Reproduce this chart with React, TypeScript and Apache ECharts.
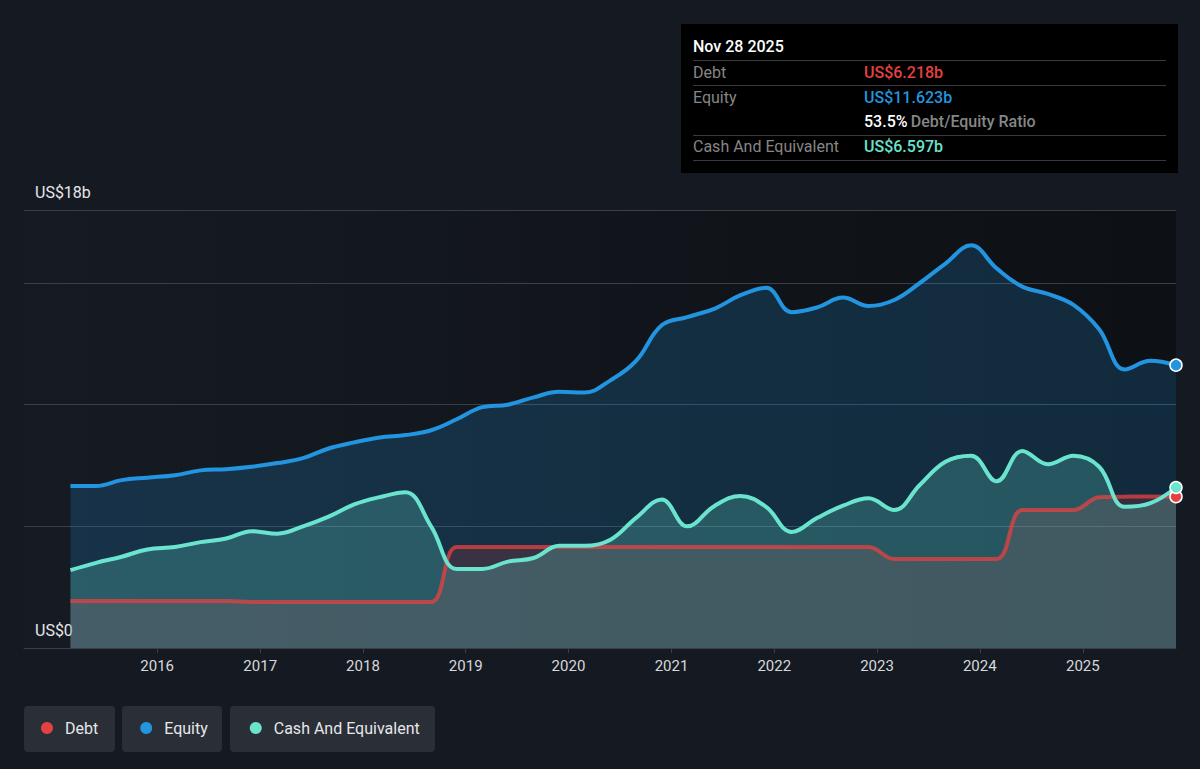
import React, { useEffect, useRef } from "react";
import * as echarts from "echarts";

const dates = [
  "2015-02-27", "2015-05-29", "2015-08-28", "2015-11-27",
  "2016-03-04", "2016-06-03", "2016-09-02", "2016-12-02",
  "2017-03-03", "2017-06-02", "2017-09-01", "2017-12-01",
  "2018-03-02", "2018-06-01", "2018-08-31", "2018-11-30",
  "2019-03-01", "2019-05-31", "2019-08-30", "2019-11-29",
  "2020-02-28", "2020-05-29", "2020-08-28", "2020-11-27",
  "2021-02-26", "2021-06-04", "2021-09-03", "2021-12-03",
  "2022-03-04", "2022-06-03", "2022-09-02", "2022-12-02",
  "2023-03-03", "2023-06-02", "2023-09-01", "2023-12-01",
  "2024-03-01", "2024-05-31", "2024-08-30", "2024-11-29",
  "2025-02-28", "2025-05-30", "2025-08-29", "2025-11-28",
];

const equity = [
  6.66, 6.66, 6.9, 7.0,
  7.1, 7.3, 7.35, 7.45,
  7.6, 7.8, 8.2, 8.45,
  8.65, 8.75, 8.95, 9.4,
  9.9, 10.0, 10.3, 10.53,
  10.5, 11.0, 11.8, 13.26,
  13.6, 13.95, 14.5, 14.8,
  13.8, 14.0, 14.4, 14.05,
  14.3, 15.0, 15.8, 16.55,
  15.6, 14.85, 14.55, 14.1,
  13.1, 11.45, 11.8, 11.623,
];

const cash = [
  3.2, 3.5, 3.75, 4.05,
  4.15, 4.35, 4.5, 4.8,
  4.7, 5.0, 5.4, 5.9,
  6.2, 6.4, 5.0, 3.25,
  3.25, 3.55, 3.7, 4.2,
  4.2, 4.45, 5.35, 6.1,
  5.0, 5.85, 6.25, 5.8,
  4.77, 5.35, 5.85, 6.15,
  5.67, 6.7, 7.65, 7.9,
  6.85, 8.1, 7.55, 7.9,
  7.45, 5.8, 5.95, 6.597,
];

const debt = [
  1.93, 1.93, 1.93, 1.93,
  1.93, 1.93, 1.93, 1.89,
  1.89, 1.89, 1.89, 1.89,
  1.89, 1.89, 1.89, 4.15,
  4.15, 4.15, 4.15, 4.15,
  4.15, 4.15, 4.15, 4.15,
  4.15, 4.15, 4.15, 4.15,
  4.15, 4.15, 4.15, 4.15,
  3.66, 3.66, 3.66, 3.66,
  3.66, 5.67, 5.67, 5.67,
  6.2, 6.22, 6.23, 6.218,
];

const yearTicks = [2016, 2017, 2018, 2019, 2020, 2021, 2022, 2023, 2024, 2025];
const yLabelValues = [0, 18];

const xMin = "2014-09-15";
const xMax = "2025-11-28";

const DEBT = "#e64141";
const EQUITY = "#2394df";
const CASH = "#6ae3cf";
const FONT = "Roboto, 'Noto Sans', sans-serif";

const ts = (d: string) => Date.parse(d + "T00:00:00Z");
const yearTs = yearTicks.map((y) => ts(`${y}-01-01`));

function buildData(values: number[], color: string) {
  return values.map((v, i) => {
    if (i === values.length - 1) {
      return {
        value: [ts(dates[i]), v],
        symbol: "circle",
        symbolSize: 12,
        itemStyle: { color, borderColor: "#ffffff", borderWidth: 1.5, opacity: 1 },
      };
    }
    return { value: [ts(dates[i]), v] };
  });
}

export default function App() {
  const ref = useRef<HTMLDivElement>(null);

  useEffect(() => {
    if (!ref.current) return;
    const chart = echarts.init(ref.current, null, { renderer: "svg" });

    const lineSeries = (
      name: string,
      values: number[],
      color: string,
      fill: string,
      lineOpacity: number
    ) => ({
      name,
      type: "line",
      smooth: 0.4,
      symbol: "none",
      showSymbol: true,
      data: buildData(values, color),
      lineStyle: { color, width: 4, opacity: lineOpacity },
      itemStyle: { color },
      areaStyle: { color: fill, opacity: 1 },
      emphasis: { disabled: true },
      clip: true,
    });

    const tipX = 681;
    const tipY = 24;
    const col2 = 864;
    const lx0 = 693;
    const lx1 = 1166;
    const labelFont = `16px ${FONT}`;
    const valueFont = `500 16px ${FONT}`;

    chart.setOption({
      animation: false,
      backgroundColor: "#151a22",
      textStyle: { fontFamily: FONT },
      grid: {
        left: 24,
        right: 24,
        top: 210,
        bottom: 121,
        show: true,
        borderWidth: 0,
        backgroundColor: new echarts.graphic.LinearGradient(0, 0, 1, 0, [
          { offset: 0, color: "#161b23" },
          { offset: 1, color: "#0d1014" },
        ]),
      },
      xAxis: {
        type: "value",
        min: ts(xMin),
        max: ts(xMax),
        axisLine: { show: true, lineStyle: { color: "#3b4048", width: 1 } },
        axisTick: {
          show: true,
          length: 5,
          lineStyle: { color: "#3b4048" },
          customValues: yearTs,
        },
        splitLine: { show: false },
        axisLabel: {
          color: "#d6d8db",
          fontSize: 15,
          fontFamily: FONT,
          margin: 10,
          customValues: yearTs,
          formatter: (val: number) => String(new Date(val).getUTCFullYear()),
        },
      },
      yAxis: {
        type: "value",
        min: 0,
        max: 18,
        interval: 5,
        axisLine: { show: false },
        axisTick: { show: false },
        splitLine: { show: true, lineStyle: { color: "#3a3e45", width: 1 } },
        axisLabel: {
          inside: true,
          customValues: yLabelValues,
          margin: 11,
          align: "left",
          verticalAlign: "bottom",
          padding: [0, 0, 10, 0],
          color: "#e6e7e9",
          fontSize: 16,
          fontFamily: FONT,
          formatter: (v: number) => (v === 0 ? "US$0" : `US$${v}b`),
        },
      },
      legend: {
        left: 36,
        top: 715,
        z: 10,
        icon: "circle",
        itemWidth: 26,
        itemHeight: 12,
        itemGap: 42,
        selectedMode: false,
        data: ["Debt", "Equity", "Cash And Equivalent"],
        textStyle: { color: "#e6e7e9", fontSize: 16, fontFamily: FONT },
      },
      graphic: [
        { type: "rect", z: 1, shape: { x: 24, y: 706, width: 91, height: 46, r: 4 }, style: { fill: "#2a2e36" } },
        { type: "rect", z: 1, shape: { x: 122, y: 706, width: 100, height: 46, r: 4 }, style: { fill: "#2a2e36" } },
        { type: "rect", z: 1, shape: { x: 230, y: 706, width: 205, height: 46, r: 4 }, style: { fill: "#2a2e36" } },
        {
          type: "group",
          z: 20,
          children: [
            { type: "rect", shape: { x: tipX, y: tipY, width: 497, height: 149 }, style: { fill: "#000000" } },
            { type: "text", x: lx0, y: 46, style: { text: "Nov 28 2025", fill: "#ffffff", font: valueFont, verticalAlign: "middle" } },
            { type: "line", shape: { x1: lx0, y1: 60.5, x2: lx1, y2: 60.5 }, style: { stroke: "#3a3a3a", lineWidth: 1 } },
            { type: "text", x: lx0, y: 72, style: { text: "Debt", fill: "#868686", font: labelFont, verticalAlign: "middle" } },
            { type: "text", x: col2, y: 72, style: { text: "US$6.218b", fill: DEBT, font: valueFont, verticalAlign: "middle" } },
            { type: "line", shape: { x1: lx0, y1: 85.5, x2: lx1, y2: 85.5 }, style: { stroke: "#3a3a3a", lineWidth: 1 } },
            { type: "text", x: lx0, y: 97, style: { text: "Equity", fill: "#868686", font: labelFont, verticalAlign: "middle" } },
            { type: "text", x: col2, y: 97, style: { text: "US$11.623b", fill: EQUITY, font: valueFont, verticalAlign: "middle" } },
            {
              type: "text",
              x: col2,
              y: 121,
              style: {
                text: "{a|53.5%} {b|Debt/Equity Ratio}",
                verticalAlign: "middle",
                rich: {
                  a: { fill: "#ffffff", font: valueFont },
                  b: { fill: "#868686", font: valueFont },
                },
              },
            },
            { type: "line", shape: { x1: lx0, y1: 135.5, x2: lx1, y2: 135.5 }, style: { stroke: "#3a3a3a", lineWidth: 1 } },
            { type: "text", x: lx0, y: 146, style: { text: "Cash And Equivalent", fill: "#868686", font: labelFont, verticalAlign: "middle" } },
            { type: "text", x: col2, y: 146, style: { text: "US$6.597b", fill: CASH, font: valueFont, verticalAlign: "middle" } },
            { type: "line", shape: { x1: lx0, y1: 160.5, x2: lx1, y2: 160.5 }, style: { stroke: "#3a3a3a", lineWidth: 1 } },
          ],
        },
      ],
      series: [
        lineSeries("Equity", equity, EQUITY, "rgba(35,148,223,0.2)", 1),
        lineSeries("Debt", debt, DEBT, "rgba(230,65,65,0.17)", 0.75),
        lineSeries("Cash And Equivalent", cash, CASH, "rgba(106,227,207,0.24)", 1),
      ],
    });

    return () => chart.dispose();
  }, []);

  return (
    <div
      ref={ref}
      style={{ position: "fixed", left: 0, top: 0, width: 1200, height: 769 }}
    />
  );
}
